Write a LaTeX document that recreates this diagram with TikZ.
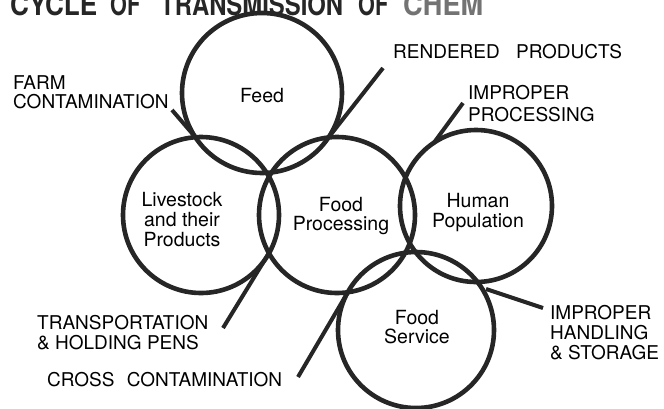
\documentclass[tikz,border=0pt]{standalone}
\usepackage{fontspec}
\setmainfont{TeX Gyre Heros}
\newcommand{\headword}[2]{\resizebox{#1}{22pt}{\bfseries #2}}
\begin{document}
\begin{tikzpicture}[x=1pt,y=-1pt,
  ring/.style={draw=black!85,line width=4.6pt},
  pointer/.style={draw=black!85,line width=4pt},
  caption/.style={inner sep=0pt,anchor=north west,align=left,
    font=\fontsize{19}{20}\selectfont},
  ringlabel/.style={inner sep=0pt,anchor=north,align=center,
    font=\fontsize{19.5}{20}\selectfont},
  heading/.style={inner sep=0pt,anchor=base west,text=black!85}]
\useasboundingbox (0,0) rectangle (664,408);

% heading, running off the top edge
\node[heading] (hA) at (10,15) {\headword{87pt}{CYCLE}};
\node[heading] (hB) at (110,15) {\headword{30pt}{OF}};
\node[heading] (hC) at (160,15) {\headword{183pt}{TRANSMISSION}};
\node[heading] (hD) at (358,15) {\headword{30pt}{OF}};
\node[heading,text=black!55] (hE) at (403,15) {\headword{80pt}{CHEM}};

% the five stages
\draw[ring] (262,93) circle[radius=80pt];
\draw[ring] (201,215) circle[radius=78pt];
\draw[ring] (337,215) circle[radius=78pt];
\draw[ring] (476,206) circle[radius=76pt];
\draw[ring] (416,330) circle[radius=78pt];

\node[ringlabel] (feed) at (262,88) {Feed};
\node[ringlabel] (live) at (182,192) {Livestock\\and their\\Products};
\node[ringlabel,font=\fontsize{19.5}{19}\selectfont] (proc) at (341,197) {Food\\Processing};
\node[ringlabel] (human) at (478,193) {Human\\Population};
\node[ringlabel,font=\fontsize{19.5}{19}\selectfont] (serv) at (417,310) {Food\\Service};

% points where the rings cross
\coordinate (xFL) at (195.4,137.2);
\coordinate (xFP) at (328.6,137.4);
\coordinate (xLP) at (269,253);
\coordinate (xPS) at (347.8,292.2);
\coordinate (xHu) at (433,144);
\coordinate (xHS) at (486,289);

% sources of contamination
\node[caption,font=\fontsize{19}{19}\selectfont] (farm) at (13,75) {FARM\\CONTAMINATION};
\node[caption] (rend) at (393,44) {RENDERED \hspace{11pt}PRODUCTS};
\node[caption,font=\fontsize{19}{22}\selectfont] (improc) at (468,85) {IMPROPER\\PROCESSING};
\node[caption] (trans) at (37,315) {TRANSPORTATION\\\& HOLDING PENS};
\node[caption] (cross) at (47,372) {CROSS \hspace{7pt}CONTAMINATION};
\node[caption] (handl) at (550,305) {IMPROPER\\HANDLING\\\& STORAGE};

\coordinate (pFarm) at (172,110);
\coordinate (pRend) at (383,68);
\coordinate (pImp) at (463,103);
\coordinate (pTrans) at (223,328);
\coordinate (pCross) at (298,377);
\coordinate (pHandl) at (543,308);

\draw[pointer] (pFarm) -- (xFL);
\draw[pointer] (pRend) -- (xFP);
\draw[pointer] (pImp) -- (xHu);
\draw[pointer] (pTrans) -- (xLP);
\draw[pointer] (pCross) -- (xPS);
\draw[pointer] (pHandl) -- (xHS);
\end{tikzpicture}
\end{document}
